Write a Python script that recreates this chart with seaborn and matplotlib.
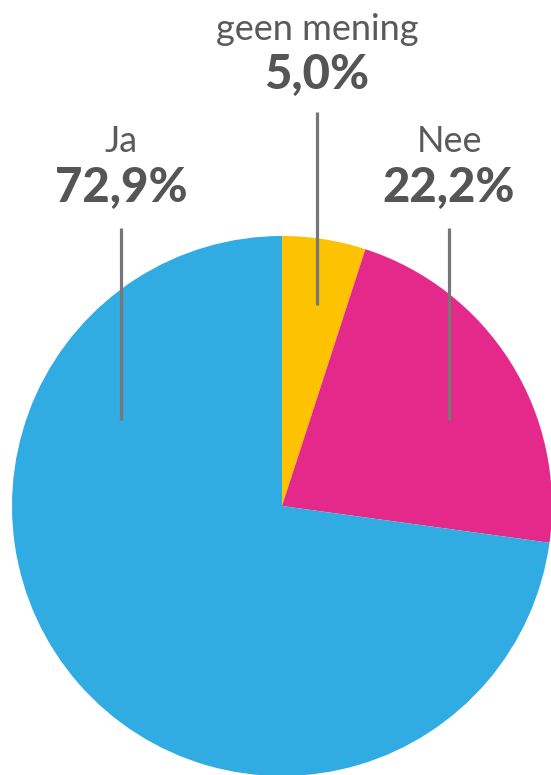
import matplotlib
matplotlib.use('Agg')
import matplotlib.pyplot as plt
import seaborn as sns

# data
labels = ['geen mening', 'Nee', 'Ja']
values = [5.0, 22.2, 72.9]
colors = ['#FDC300', '#E5298A', '#30ACE2']

# label layout (pixel coords, y from top)
label_x = [317, 449, 121]
label_y = [29, 142, 142]
pct_y = [75, 188, 188]
line_top = [112, 228, 228]
line_bottom = [305, 420, 420]

W, H = 551, 775
sns.set_style('white')
plt.rcParams['font.family'] = ['Lato', 'DejaVu Sans']

fig = plt.figure(figsize=(W / 100, H / 100), dpi=100)
ax = fig.add_axes([0, 0, 1, 1])

ax.pie(values, colors=colors, startangle=90, counterclock=False,
       center=(282, H - 506), radius=270, frame=False,
       wedgeprops=dict(linewidth=0))
ax.set_xlim(0, W)
ax.set_ylim(0, H)
ax.set_aspect('equal')
ax.axis('off')

txt = '#555555'
for i in range(len(labels)):
    ax.text(label_x[i], H - label_y[i], labels[i], ha='center', va='center',
            fontsize=26, color='#5a5a5a', fontweight='normal')
    pct = f'{values[i]:.1f}'.replace('.', ',') + '%'
    ax.text(label_x[i], H - pct_y[i], pct, ha='center', va='center',
            fontsize=34, color=txt, fontweight='black')
    ax.plot([label_x[i], label_x[i]], [H - line_top[i], H - line_bottom[i]],
            color='#777777', linewidth=2.3, solid_capstyle='butt', zorder=5)

fig.savefig('out.png', dpi=100)
